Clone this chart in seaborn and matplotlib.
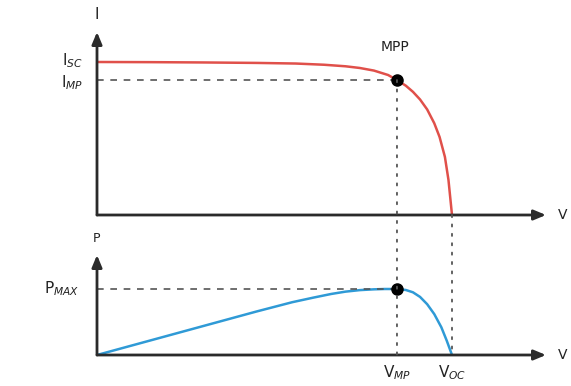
import numpy as np
import pandas as pd
import matplotlib
matplotlib.use("Agg")
import matplotlib.pyplot as plt
from matplotlib.patches import ConnectionPatch
import seaborn as sns

# I-V curve (V normalised to Voc, I normalised to Isc)
iv_voltage = [0.00, 0.15, 0.30, 0.45, 0.56, 0.64, 0.70, 0.74, 0.78, 0.82, 0.845,
              0.87, 0.89, 0.91, 0.93, 0.95, 0.965, 0.98, 0.99, 1.00]
iv_current = [1.000, 0.999, 0.997, 0.994, 0.990, 0.982, 0.972, 0.961, 0.944, 0.915, 0.882,
              0.845, 0.805, 0.755, 0.690, 0.600, 0.510, 0.380, 0.230, 0.000]

# P-V curve (P normalised to Pmax)
pv_voltage = [0.00, 0.15, 0.30, 0.45, 0.55, 0.61, 0.66, 0.70, 0.74, 0.78, 0.81, 0.845,
              0.87, 0.89, 0.91, 0.93, 0.95, 0.97, 0.985, 1.00]
pv_power = [0.000, 0.220, 0.440, 0.660, 0.800, 0.870, 0.925, 0.960, 0.983, 0.995, 1.000, 1.000,
            0.985, 0.950, 0.880, 0.770, 0.620, 0.420, 0.220, 0.000]

V_MP, V_OC = 0.845, 1.00
I_SC, I_MP = 1.00, 0.882
P_MAX = 1.00

iv = pd.DataFrame({"V": iv_voltage, "I": iv_current})
pv = pd.DataFrame({"V": pv_voltage, "P": pv_power})

sns.set_theme(style="white")
plt.rcParams["font.family"] = ["DejaVu Sans"]

W, H = 571, 386
fig = plt.figure(figsize=(W / 100, H / 100), dpi=100)

x0, x_end = 97, 546
px_per_v = 355.0


def place(top, bottom):
    return [x0 / W, (H - bottom) / H, (x_end - x0) / W, (bottom - top) / H]


ax1 = fig.add_axes(place(32, 215))
ax2 = fig.add_axes(place(255, 355))
xmax = (x_end - x0) / px_per_v
ax1.set_xlim(0, xmax)
ax1.set_ylim(0, 183 / 153)
ax2.set_xlim(0, xmax)
ax2.set_ylim(0, 100 / 66)

axis_col = "#2b2b2b"
for ax in (ax1, ax2):
    ax.set_axis_off()
    ax.annotate("", xy=(1, 0), xytext=(0, 0), xycoords="axes fraction",
                arrowprops=dict(arrowstyle="-|>,head_length=0.6,head_width=0.25",
                                lw=2, color=axis_col, shrinkA=0, shrinkB=0))
    ax.annotate("", xy=(0, 1), xytext=(0, 0), xycoords="axes fraction",
                arrowprops=dict(arrowstyle="-|>,head_length=0.6,head_width=0.25",
                                lw=2, color=axis_col, shrinkA=0, shrinkB=0))

sns.lineplot(data=iv, x="V", y="I", ax=ax1, color="#e0504a", lw=1.8, sort=False)
sns.lineplot(data=pv, x="V", y="P", ax=ax2, color="#2f9ad6", lw=1.8, sort=False)

dash_col = "#555555"
ax1.plot([0, V_MP], [I_MP, I_MP], ls=(0, (4, 4)), color=dash_col, lw=1.2)
ax2.plot([0, V_MP], [P_MAX, P_MAX], ls=(0, (4, 4)), color=dash_col, lw=1.2)

# vertical dotted lines across both panels
fig.add_artist(ConnectionPatch((V_MP, I_MP), (V_MP, 0), "data", "data",
                               axesA=ax1, axesB=ax2, ls=(0, (1.2, 4)),
                               color=dash_col, lw=1.3))
fig.add_artist(ConnectionPatch((V_OC, 0), (V_OC, 0), "data", "data",
                               axesA=ax1, axesB=ax2, ls=(0, (1.2, 4)),
                               color=dash_col, lw=1.3))

ax1.plot([V_MP], [I_MP], "o", color="black", ms=8)
ax2.plot([V_MP], [P_MAX], "o", color="black", ms=8)

tcol = "#222222"
ax1.text(V_MP - 0.005, I_MP + 0.17, "MPP", ha="center", va="bottom", fontsize=10, color=tcol)
ax1.text(-0.04, I_SC + 0.01, r"I$_{SC}$", ha="right", va="center", fontsize=11, color=tcol)
ax1.text(-0.04, I_MP - 0.02, r"I$_{MP}$", ha="right", va="center", fontsize=11, color=tcol)
ax1.text(0, 1.31, "I", ha="center", va="center", fontsize=11, color=tcol, clip_on=False)
ax1.text(xmax + 0.048, 0, "V", ha="center", va="center", fontsize=10, color=tcol)

ax2.text(0, 1.77, "P", ha="center", va="center", fontsize=9, color=tcol)
ax2.text(-0.05, P_MAX, r"P$_{MAX}$", ha="right", va="center", fontsize=11, color=tcol)
ax2.text(xmax + 0.048, 0, "V", ha="center", va="center", fontsize=10, color=tcol)
ax2.text(V_MP, -0.27, r"V$_{MP}$", ha="center", va="center", fontsize=11, color=tcol)
ax2.text(V_OC, -0.27, r"V$_{OC}$", ha="center", va="center", fontsize=11, color=tcol)

fig.savefig("out.png", dpi=100)
